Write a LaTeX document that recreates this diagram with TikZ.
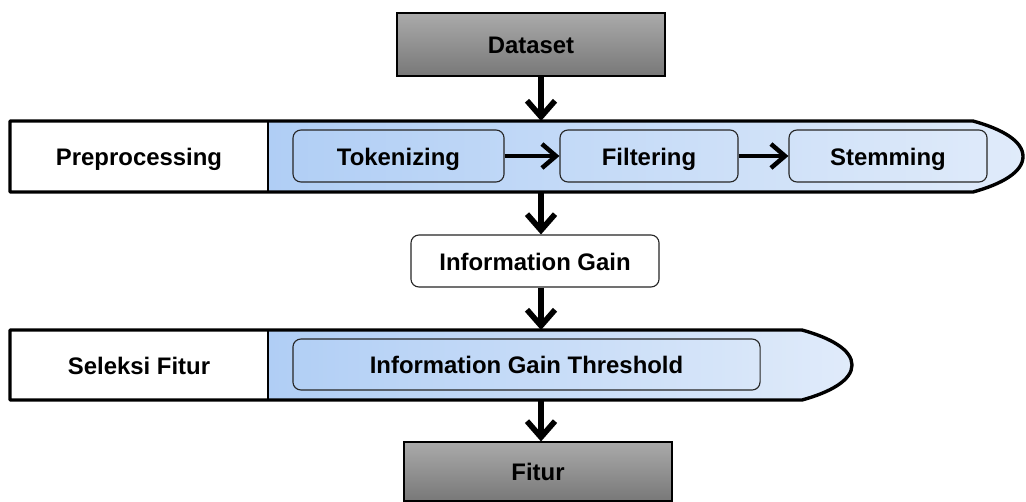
\documentclass[tikz,border=0pt]{standalone}
\usepackage{fontspec}
\setmainfont{Liberation Sans}
\usetikzlibrary{arrows.meta}
\usetikzlibrary{calc}
\definecolor{bandleft}{RGB}{176,206,245}
\definecolor{bandright}{RGB}{224,235,250}
\definecolor{graytop}{RGB}{170,170,170}
\definecolor{graybottom}{RGB}{120,120,120}
\tikzset{
  every node/.style={font=\fontsize{17}{20}\selectfont\bfseries, text height=13pt, text depth=0pt},
  databox/.style={draw=black, line width=0.8pt, top color=graytop, bottom color=graybottom, minimum width=6.7cm},
  stagebox/.style={draw=black, line width=0.8pt, fill=white, minimum width=6.45cm},
  procbox/.style={draw=black!85, line width=0.8pt, rounded corners=0.2cm, minimum height=1.3cm},
  band/.style={left color=bandleft, right color=bandright},
  frame/.style={line width=2.4pt, line join=round},
  arrow/.style={-{Straight Barb[length=4mm,width=7mm]}, line width=4pt},
  harrow/.style={-{Straight Barb[length=3.5mm,width=6mm]}, line width=3.2pt}
}
\begin{document}
\begin{tikzpicture}[x=0.025cm,y=-0.025cm]
  \useasboundingbox (0,0) rectangle (1026,501);
  \node[databox, minimum height=1.575cm] (dataset) at (531,44.5) {Dataset};

  \shade[band] (268,121) -- (973,121) .. controls (1002,129) and (1023,141) .. (1023,156.5)
    .. controls (1023,172) and (1002,184) .. (973,192) -- (268,192) -- cycle;
  \node[stagebox, minimum height=1.775cm] (pre) at (139,156.5) {Preprocessing};
  \draw[frame] (10,121) -- (973,121) .. controls (1002,129) and (1023,141) .. (1023,156.5)
    .. controls (1023,172) and (1002,184) .. (973,192) -- (10,192) -- cycle;
  \coordinate (prein) at (541,121);
  \coordinate (preout) at (541,192);
  \node[procbox, minimum width=5.275cm] (token) at (398.5,156) {Tokenizing};
  \node[procbox, minimum width=4.45cm] (filter) at (649,156) {Filtering};
  \node[procbox, minimum width=4.95cm] (stem) at (888,156) {Stemming};
  \draw[harrow] (token) -- (filter);
  \draw[harrow] (filter) -- (stem);

  \node[procbox, fill=white, minimum width=6.2cm] (ig) at (535,261) {Information Gain};

  \shade[band] (268,330) -- (802,330) .. controls (831,338) and (852,350) .. (852,365)
    .. controls (852,380) and (831,392) .. (802,400) -- (268,400) -- cycle;
  \node[stagebox, minimum height=1.75cm] (sel) at (139,365) {Seleksi Fitur};
  \draw[frame] (10,330) -- (802,330) .. controls (831,338) and (852,350) .. (852,365)
    .. controls (852,380) and (831,392) .. (802,400) -- (10,400) -- cycle;
  \coordinate (selin) at (541,330);
  \coordinate (selout) at (541,400);
  \node[procbox, minimum width=11.675cm, minimum height=1.275cm] (igt) at (526.5,364.5) {Information Gain Threshold};

  \node[databox, minimum height=1.475cm] (fitur) at (538,471.5) {Fitur};

  \draw[arrow] (dataset.south -| prein) -- (prein);
  \draw[arrow] (preout) -- (ig.north -| preout);
  \draw[arrow] (ig.south -| selin) -- (selin);
  \draw[arrow] (selout) -- (fitur.north -| selout);
\end{tikzpicture}
\end{document}
